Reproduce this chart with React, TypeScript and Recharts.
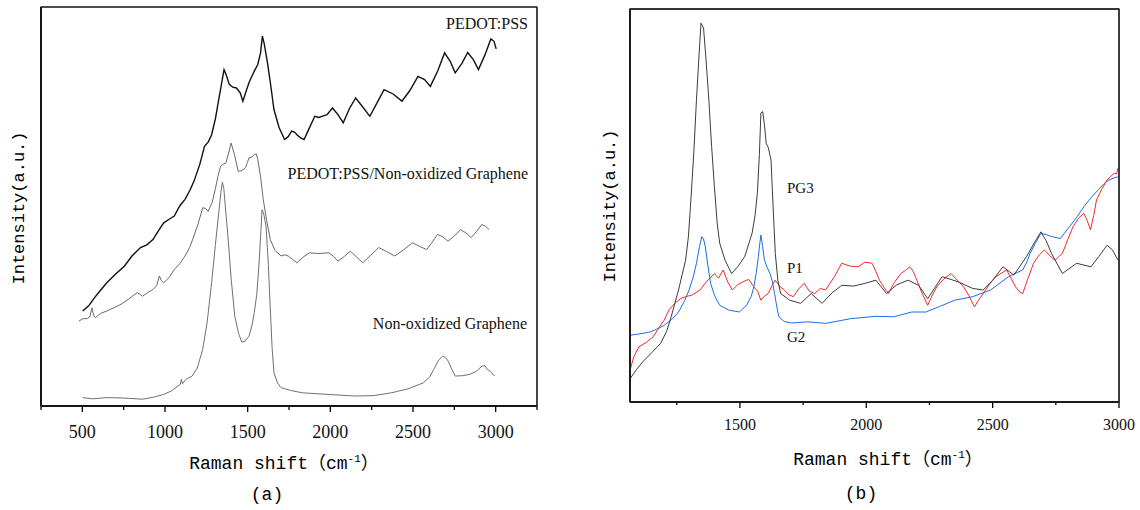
import React from 'react';
import { LineChart, Line, XAxis, YAxis, ReferenceLine } from 'recharts';

// ---------- Panel (a) ----------
const domainA = [250, 3250];
const ticksA = [250, 500, 750, 1000, 1250, 1500, 1750, 2000, 2250, 2500, 2750, 3000, 3250];
const labelsA = [500, 1000, 1500, 2000, 2500, 3000];

const pedotX = [502, 540, 573, 610, 648, 700, 755, 800, 852, 890, 927, 960, 992, 1025, 1056, 1090, 1121, 1150, 1175, 1210, 1239, 1262, 1282, 1305, 1325, 1345, 1357, 1370, 1389, 1410, 1432, 1455, 1471, 1490, 1508, 1535, 1561, 1578, 1589, 1600, 1620, 1640, 1659, 1690, 1723, 1745, 1766, 1785, 1798, 1820, 1841, 1870, 1906, 1930, 1949, 1980, 2013, 2045, 2078, 2115, 2153, 2195, 2239, 2280, 2325, 2380, 2433, 2480, 2530, 2570, 2605, 2650, 2691, 2725, 2755, 2795, 2831, 2865, 2896, 2935, 2971, 2990, 3003];
const pedotY = [23.8, 25.2, 27.1, 29.0, 30.9, 33.0, 35.1, 37.6, 39.7, 40.4, 41.7, 43.9, 45.9, 46.8, 47.6, 50.2, 51.8, 54.0, 56.3, 60.5, 65.1, 66.2, 68.0, 72.0, 76.8, 81.5, 84.3, 83.0, 80.6, 79.9, 79.7, 78.5, 76.4, 78.8, 81.0, 83.5, 85.6, 88.5, 92.7, 90.8, 86.0, 80.2, 74.3, 69.8, 66.8, 67.5, 68.9, 68.6, 68.0, 67.2, 66.8, 69.4, 72.6, 72.3, 72.6, 73.0, 74.7, 73.1, 71.0, 74.5, 77.2, 75.0, 72.6, 75.8, 79.3, 78.2, 76.4, 79.0, 82.6, 81.8, 80.1, 84.0, 88.5, 86.4, 83.5, 85.8, 88.6, 86.8, 84.3, 88.0, 92.0, 91.4, 89.5];

const compX = [480, 505, 530, 545, 558, 568, 579, 610, 648, 690, 734, 780, 831, 850, 863, 895, 927, 950, 966, 978, 992, 1025, 1056, 1090, 1121, 1150, 1175, 1200, 1228, 1245, 1261, 1285, 1304, 1320, 1336, 1352, 1368, 1385, 1400, 1420, 1443, 1465, 1486, 1498, 1508, 1525, 1540, 1552, 1561, 1578, 1594, 1615, 1637, 1665, 1702, 1725, 1745, 1770, 1798, 1835, 1874, 1930, 1992, 2020, 2046, 2085, 2121, 2160, 2196, 2245, 2293, 2340, 2390, 2445, 2497, 2540, 2583, 2615, 2648, 2680, 2712, 2750, 2788, 2820, 2852, 2885, 2917, 2940, 2960];
const compY = [21.3, 21.9, 21.9, 22.3, 24.6, 22.8, 22.1, 23.2, 23.8, 24.6, 25.5, 26.8, 28.4, 28.0, 27.5, 28.4, 29.2, 30.2, 32.6, 31.4, 30.9, 32.2, 34.2, 35.7, 37.6, 39.8, 42.6, 45.6, 49.7, 49.5, 48.8, 51.0, 54.3, 57.5, 60.1, 60.6, 60.9, 63.4, 65.9, 63.0, 58.8, 59.0, 59.7, 61.0, 62.2, 62.4, 63.0, 63.2, 61.8, 57.5, 51.8, 46.5, 41.7, 39.0, 37.6, 37.9, 37.6, 36.8, 35.9, 37.3, 38.4, 38.2, 38.4, 37.5, 36.3, 37.5, 38.8, 37.3, 35.9, 37.8, 39.7, 38.7, 37.6, 39.2, 40.9, 40.0, 39.2, 41.0, 43.0, 42.4, 41.3, 42.6, 44.2, 43.4, 42.2, 43.8, 45.5, 45.0, 44.2];

const grapheneX = [502, 560, 648, 750, 863, 930, 992, 1040, 1078, 1092, 1099, 1106, 1130, 1164, 1195, 1228, 1255, 1282, 1305, 1325, 1338, 1347, 1356, 1368, 1379, 1400, 1422, 1445, 1465, 1485, 1508, 1525, 1540, 1555, 1568, 1580, 1587, 1598, 1611, 1625, 1637, 1648, 1659, 1680, 1702, 1760, 1831, 1990, 2153, 2260, 2368, 2470, 2562, 2600, 2626, 2655, 2680, 2695, 2712, 2735, 2755, 2800, 2841, 2880, 2917, 2935, 2949, 2970, 2992];
const grapheneY = [2.1, 1.8, 2.1, 2.0, 1.7, 2.2, 2.9, 3.8, 5.0, 5.4, 6.7, 5.6, 6.8, 7.5, 9.5, 14.2, 21.0, 30.9, 40.5, 48.4, 53.5, 56.1, 54.5, 48.5, 43.4, 32.0, 22.5, 18.2, 16.0, 16.3, 17.5, 20.0, 23.4, 28.0, 35.1, 44.0, 49.2, 48.0, 45.1, 35.5, 24.2, 14.5, 8.3, 5.8, 4.6, 3.9, 3.3, 2.9, 2.5, 2.6, 3.3, 4.3, 5.8, 7.2, 9.2, 11.5, 12.5, 12.2, 11.3, 9.2, 7.5, 7.6, 7.9, 8.6, 10.0, 10.1, 9.2, 8.6, 7.5];

// ---------- Panel (b) ----------
const domainB = [1065, 3000];
const ticksB = [1250, 1500, 1750, 2000, 2250, 2500, 2750, 3000];
const labelsB = [1500, 2000, 2500, 3000];

const pg3X = [1065, 1090, 1115, 1150, 1186, 1210, 1228, 1257, 1285, 1296, 1306, 1318, 1328, 1338, 1346, 1356, 1366, 1377, 1388, 1399, 1410, 1420, 1441, 1467, 1491, 1519, 1548, 1560, 1569, 1577, 1583, 1590, 1597, 1604, 1612, 1623, 1631, 1640, 1650, 1661, 1697, 1740, 1782, 1825, 1865, 1903, 1950, 1995, 2038, 2080, 2120, 2165, 2207, 2243, 2300, 2363, 2421, 2463, 2500, 2541, 2584, 2634, 2665, 2691, 2712, 2733, 2776, 2832, 2889, 2920, 2953, 2974, 2996];
const pg3Y = [5.9, 8.2, 10.2, 12.5, 14.9, 18.0, 21.7, 28.5, 36.1, 42.0, 51.4, 64.0, 76.9, 88.0, 96.4, 95.2, 87.0, 76.9, 65.0, 54.8, 45.5, 40.4, 36.1, 32.7, 34.4, 37.0, 42.9, 47.5, 53.1, 63.0, 73.5, 73.9, 70.5, 65.8, 64.8, 61.6, 50.0, 37.8, 31.0, 27.6, 25.9, 25.1, 27.6, 25.1, 27.8, 29.7, 29.5, 30.2, 31.0, 27.6, 29.8, 31.0, 29.7, 26.3, 31.9, 30.6, 28.9, 28.5, 31.0, 34.4, 32.3, 37.0, 40.5, 43.3, 41.0, 37.8, 32.7, 35.3, 34.4, 37.0, 39.9, 38.7, 36.1];

const p1X = [1065, 1080, 1100, 1130, 1157, 1180, 1200, 1220, 1242, 1265, 1285, 1310, 1342, 1370, 1399, 1415, 1434, 1452, 1470, 1490, 1512, 1535, 1555, 1570, 1583, 1598, 1612, 1626, 1640, 1658, 1676, 1693, 1711, 1733, 1754, 1775, 1796, 1818, 1839, 1856, 1874, 1890, 1903, 1935, 1967, 1995, 2023, 2038, 2052, 2070, 2087, 2112, 2137, 2155, 2172, 2186, 2200, 2222, 2243, 2260, 2279, 2305, 2335, 2360, 2385, 2405, 2428, 2445, 2463, 2488, 2513, 2535, 2555, 2573, 2591, 2605, 2619, 2640, 2662, 2684, 2705, 2726, 2747, 2762, 2776, 2797, 2818, 2840, 2861, 2875, 2887, 2900, 2911, 2932, 2953, 2967, 2981, 2990, 2996];
const p1Y = [8.1, 11.5, 14.0, 15.2, 16.6, 19.0, 20.8, 23.5, 25.1, 26.3, 26.8, 27.2, 28.5, 30.8, 32.7, 31.5, 33.6, 30.5, 28.5, 29.8, 30.6, 31.2, 29.3, 28.2, 25.9, 27.0, 27.6, 29.5, 31.0, 29.4, 28.5, 27.3, 26.8, 28.8, 30.2, 28.2, 27.6, 28.9, 28.5, 30.2, 31.9, 33.8, 35.3, 34.6, 34.4, 35.6, 35.3, 33.2, 31.0, 29.2, 27.6, 30.5, 32.7, 33.5, 34.4, 33.2, 31.0, 27.5, 24.6, 27.0, 29.3, 31.2, 32.7, 31.0, 29.3, 27.2, 24.2, 26.0, 27.6, 30.0, 31.9, 32.8, 33.6, 31.5, 29.3, 28.1, 27.6, 31.5, 35.3, 37.4, 38.7, 37.2, 36.1, 37.0, 37.8, 41.3, 44.6, 46.8, 48.0, 46.0, 43.8, 47.5, 51.4, 54.2, 56.5, 57.4, 58.2, 58.0, 59.5];

const g2X = [1065, 1100, 1143, 1170, 1200, 1230, 1257, 1280, 1299, 1315, 1328, 1340, 1349, 1356, 1363, 1373, 1384, 1400, 1420, 1455, 1498, 1526, 1545, 1555, 1565, 1573, 1579, 1583, 1590, 1597, 1608, 1619, 1628, 1637, 1646, 1654, 1675, 1704, 1768, 1839, 1938, 2038, 2109, 2180, 2236, 2290, 2350, 2421, 2492, 2563, 2619, 2635, 2648, 2670, 2691, 2712, 2733, 2768, 2804, 2835, 2861, 2890, 2918, 2940, 2960, 2980, 2996];
const g2Y = [17.0, 17.3, 17.8, 18.5, 19.5, 21.0, 22.9, 25.6, 28.5, 31.8, 35.3, 39.5, 42.1, 41.5, 39.5, 34.8, 30.2, 27.0, 24.6, 23.4, 22.9, 24.6, 26.9, 29.3, 33.0, 37.0, 40.5, 42.5, 39.5, 36.1, 34.2, 32.7, 30.8, 27.6, 24.2, 21.7, 20.5, 20.1, 20.4, 20.0, 21.2, 21.8, 21.7, 22.9, 22.9, 24.3, 25.9, 26.8, 28.5, 31.9, 33.6, 35.6, 37.8, 40.5, 42.9, 42.6, 42.1, 41.6, 44.6, 47.2, 49.7, 52.0, 54.0, 55.5, 56.5, 57.0, 57.3];

const yDomain = [0, 100];

const zip = (xs: number[], ys: number[]) => xs.map((x, i) => ({ x, v: ys[i] }));

const serif = "'Liberation Serif', 'Times New Roman', serif";
const mono = "'Liberation Mono', 'Noto Sans CJK SC', monospace";

const AXIS_H = 40;
const W = 1140;
const H = 510;
const HALF = 570;

// plot-area boxes (page pixels)
const boxA = { left: 41, top: 7, right: 537, bottom: 406 };
const boxB = { left: 630, top: 9, right: 1119, bottom: 402 };

const makeTick = (labels: number[], fontSize: number, labelDy: number, majorLen: number, minorLen: number) =>
  (props: any) => {
    const { x, y, payload } = props;
    const major = labels.includes(payload.value);
    return (
      <g>
        <line x1={x} x2={x} y1={y} y2={y + (major ? majorLen : minorLen)} stroke="#000" strokeWidth={1.3} />
        {major && (
          <text x={x} y={y + labelDy} textAnchor="middle" fontFamily={serif} fontSize={fontSize} fill="#111">
            {payload.value}
          </text>
        )}
      </g>
    );
  };

const frame = (dom: number[], leftW: number, otherW: number) => [
  <ReferenceLine key="l" x={dom[0]} stroke="#000" strokeWidth={leftW} ifOverflow="visible" />,
  <ReferenceLine key="r" x={dom[1]} stroke="#222" strokeWidth={otherW} ifOverflow="visible" />,
  <ReferenceLine key="t" y={yDomain[1]} stroke="#222" strokeWidth={otherW} ifOverflow="visible" />,
  <ReferenceLine key="b" y={yDomain[0]} stroke="#000" strokeWidth={leftW} ifOverflow="visible" />,
];

export default function App() {
  return (
    <div style={{ position: 'relative', width: W, height: H, background: '#fff' }}>
      <style>{`body{margin:0;background:#fff}`}</style>

      {/* Panel (a) */}
      <div style={{ position: 'absolute', left: 0, top: 0, width: HALF, height: H }}>
        <LineChart width={HALF} height={H} margin={{ top: boxA.top, left: boxA.left - 1, right: HALF - boxA.right, bottom: H - boxA.bottom - AXIS_H }}>
          <XAxis
            type="number"
            dataKey="x"
            domain={domainA}
            ticks={ticksA}
            interval={0}
            height={AXIS_H}
            tickSize={0}
            tickMargin={0}
            tickLine={false}
            tick={makeTick(labelsA, 18, 32, 6, 4)}
            axisLine={{ stroke: '#000', strokeWidth: 1.6 }}
            allowDataOverflow
          />
          <YAxis type="number" domain={yDomain} width={1} tick={false} tickLine={false} axisLine={{ stroke: '#000', strokeWidth: 1.8 }} allowDataOverflow />
          {frame(domainA, 1.8, 1.2)}
          <Line data={zip(grapheneX, grapheneY)} dataKey="v" type="linear" dot={false} stroke="#707070" strokeWidth={1} isAnimationActive={false} />
          <Line data={zip(compX, compY)} dataKey="v" type="linear" dot={false} stroke="#6a6a6a" strokeWidth={1} isAnimationActive={false} />
          <Line data={zip(pedotX, pedotY)} dataKey="v" type="linear" dot={false} stroke="#111" strokeWidth={1.4} isAnimationActive={false} />
        </LineChart>
      </div>

      {/* Panel (b) */}
      <div style={{ position: 'absolute', left: HALF, top: 0, width: HALF, height: H }}>
        <LineChart width={HALF} height={H} margin={{ top: boxB.top, left: boxB.left - HALF - 1, right: W - boxB.right, bottom: H - boxB.bottom - AXIS_H }}>
          <XAxis
            type="number"
            dataKey="x"
            domain={domainB}
            ticks={ticksB}
            interval={0}
            height={AXIS_H}
            tickSize={0}
            tickMargin={0}
            tickLine={false}
            tick={makeTick(labelsB, 16, 28, 6, 3)}
            axisLine={{ stroke: '#000', strokeWidth: 1.5 }}
            allowDataOverflow
          />
          <YAxis type="number" domain={yDomain} width={1} tick={false} tickLine={false} axisLine={{ stroke: '#000', strokeWidth: 1.5 }} allowDataOverflow />
          {frame(domainB, 1.5, 1.3)}
          <Line data={zip(g2X, g2Y)} dataKey="v" type="linear" dot={false} stroke="#1a6ee6" strokeWidth={1} isAnimationActive={false} />
          <Line data={zip(p1X, p1Y)} dataKey="v" type="linear" dot={false} stroke="#f02a2a" strokeWidth={1} isAnimationActive={false} />
          <Line data={zip(pg3X, pg3Y)} dataKey="v" type="linear" dot={false} stroke="#3c3c3c" strokeWidth={1} isAnimationActive={false} />
        </LineChart>
      </div>

      {/* Text overlay + frames */}
      <svg width={W} height={H} style={{ position: 'absolute', left: 0, top: 0, pointerEvents: 'none' }}>
        <rect x={boxA.left} y={boxA.top} width={boxA.right - boxA.left} height={boxA.bottom - boxA.top} fill="none" stroke="#222" strokeWidth={1.2} />
        <rect x={boxB.left} y={boxB.top} width={boxB.right - boxB.left} height={boxB.bottom - boxB.top} fill="none" stroke="#222" strokeWidth={1.3} />

        {/* panel (a) annotations */}
        <text x={528} y={29} textAnchor="end" fontFamily={serif} fontSize={16} fill="#111">PEDOT:PSS</text>
        <text x={528} y={179} textAnchor="end" fontFamily={serif} fontSize={16} fill="#111">PEDOT:PSS/Non-oxidized Graphene</text>
        <text x={527} y={329} textAnchor="end" fontFamily={serif} fontSize={16} fill="#111">Non-oxidized Graphene</text>
        {/* panel (a) axis titles */}
        <text x={284} y={469} textAnchor="middle" fontFamily={mono} fontSize={18} fill="#000">
          Raman shift（cm<tspan fontSize={11} dy={-7}>-1</tspan><tspan dy={7}>）</tspan>
        </text>
        <text x={19} y={208} textAnchor="middle" dominantBaseline="central" transform="rotate(-90 19 208)" fontFamily={mono} fontSize={17} fill="#000">
          Intensity(a.u.)
        </text>
        <text x={267} y={500} textAnchor="middle" fontFamily={mono} fontSize={18} fill="#000">(a)</text>

        {/* panel (b) annotations */}
        <text x={787} y={193} fontFamily={serif} fontSize={15} fill="#111">PG3</text>
        <text x={787} y={273} fontFamily={serif} fontSize={15} fill="#111">P1</text>
        <text x={787} y={342} fontFamily={serif} fontSize={15} fill="#111">G2</text>
        {/* panel (b) axis titles */}
        <text x={888} y={465} textAnchor="middle" fontFamily={mono} fontSize={18} fill="#000">
          Raman shift（cm<tspan fontSize={11} dy={-7}>-1</tspan><tspan dy={7}>）</tspan>
        </text>
        <text x={610} y={206} textAnchor="middle" dominantBaseline="central" transform="rotate(-90 610 206)" fontFamily={mono} fontSize={17} fill="#000">
          Intensity(a.u.)
        </text>
        <text x={861} y={499} textAnchor="middle" fontFamily={mono} fontSize={18} fill="#000">(b)</text>
      </svg>
    </div>
  );
}
